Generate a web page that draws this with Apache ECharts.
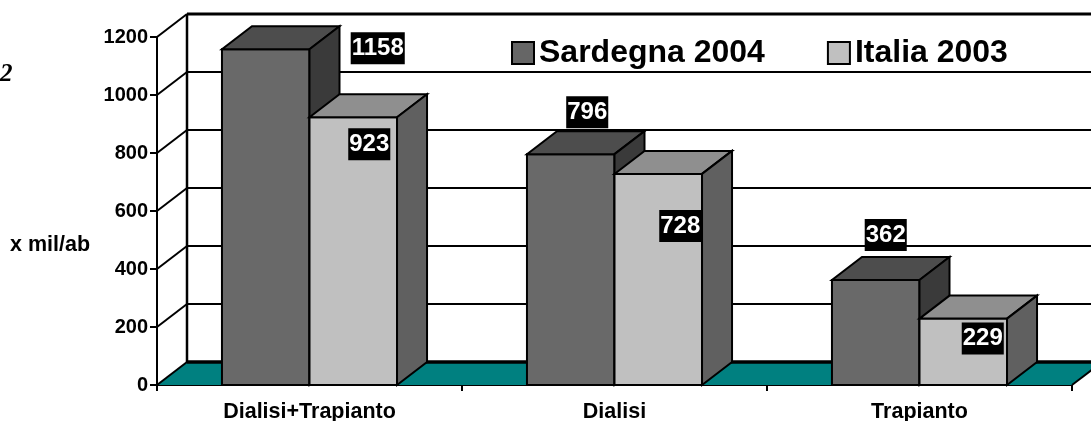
<!DOCTYPE html>
<html>
<head>
<meta charset="utf-8">
<style>html,body{margin:0;padding:0;background:#fff}#c{width:1091px;height:421px}</style>
<script src="https://cdn.jsdelivr.net/npm/echarts@6/dist/echarts.min.js"></script>
</head>
<body>
<div id="c"></div>
<script>
const categories = ['Dialisi+Trapianto', 'Dialisi', 'Trapianto'];
const sardegna = [1158, 796, 362];
const italia = [923, 728, 229];
const yTicks = [0, 200, 400, 600, 800, 1000, 1200];
const seriesNames = ['Sardegna 2004', 'Italia 2003'];
const sardegnaLabelShift = [[112, -1], [16.5, -42], [10, -45]];
const italiaLabelShift = [[16, 27], [22, 52], [19.5, 20]];

const DX = 30, DY = -23, BAR = 0.287;
const FONT = '"Liberation Sans", Arial, sans-serif';
const ln = (x1, y1, x2, y2, w) => ({
  type: 'line', shape: {x1, y1, x2, y2},
  style: {stroke: '#000', lineWidth: w || 2, fill: null}, silent: true
});
const poly = (points, fill) => ({
  type: 'polygon', shape: {points},
  style: {fill, stroke: '#000', lineWidth: 2, lineJoin: 'miter'}, silent: true
});

function renderWall(params, api) {
  const v = api.value(0);
  const band = api.size([1, 0])[0];
  const left = api.coord([0, v]);
  const x0 = left[0] - band / 2;
  const x1 = x0 + band * categories.length;
  const y = left[1];
  const ch = [];
  if (v === 0) {
    ch.push({type: 'polygon', shape: {points: [[x0, y], [x1, y], [x1 + DX, y + DY], [x0 + DX, y + DY]]},
      style: {fill: '#008080', stroke: null}, silent: true});
    ch.push(ln(x1, y, x1 + DX, y + DY, 2));
    ch.push(ln(x0 + DX, y + DY, x1 + DX, y + DY, 3.5));
  } else {
    ch.push(ln(x0 + DX, y + DY, x1 + DX, y + DY, v === 1200 ? 3 : 2));
  }
  ch.push(ln(x0, y, x0 + DX, y + DY, 2));
  if (v === 1200) {
    const bottom = api.coord([0, 0])[1];
    ch.push(ln(x0 + DX, y + DY, x0 + DX, bottom + DY, 2.5));
  }
  return {type: 'group', children: ch};
}

function barRenderer(side, colors, shifts) {
  return function (params, api) {
    const idx = api.value(0), val = api.value(1);
    const base = api.coord([idx, 0]);
    const top = api.coord([idx, val]);
    const w = api.size([1, 0])[0] * BAR;
    const xL = side === 0 ? base[0] - w : base[0];
    const xR = xL + w;
    const cx = (xL + xR) / 2;
    const s = shifts[idx];
    return {type: 'group', children: [
      poly([[xL, top[1]], [xR, top[1]], [xR, base[1]], [xL, base[1]]], colors[0]),
      poly([[xL, top[1]], [xR, top[1]], [xR + DX, top[1] + DY], [xL + DX, top[1] + DY]], colors[1]),
      poly([[xR, top[1]], [xR + DX, top[1] + DY], [xR + DX, base[1] + DY], [xR, base[1]]], colors[2]),
      {type: 'text', z2: 50, x: cx + s[0], y: top[1] + s[1],
       style: {text: String(val), fill: '#fff', backgroundColor: '#000',
         font: 'bold 24px ' + FONT, align: 'center', verticalAlign: 'middle',
         padding: [4, 1, 4, 1]}, silent: true}
    ]};
  };
}

const chart = echarts.init(document.getElementById('c'), null, {renderer: 'canvas'});
chart.setOption({
  animation: false,
  backgroundColor: '#fff',
  grid: {left: 157, right: 19, top: 37, bottom: 36, outerBoundsMode: 'none'},
  legend: {
    left: 506, top: 32, data: seriesNames, icon: 'rect',
    itemWidth: 22, itemHeight: 22, itemGap: 62,
    textStyle: {color: '#000', fontFamily: FONT, fontWeight: 'bold', fontSize: 32}
  },
  xAxis: {
    type: 'category', data: categories, boundaryGap: true,
    axisLine: {show: true, lineStyle: {color: '#000', width: 2}},
    axisTick: {show: true, length: 6, lineStyle: {color: '#000', width: 2}, alignWithLabel: false},
    axisLabel: {color: '#000', fontFamily: FONT, fontWeight: 'bold', fontSize: 21.5, margin: 16, interval: 0},
    splitLine: {show: false}
  },
  yAxis: {
    type: 'value', min: 0, max: 1200, interval: 200,
    axisLine: {show: true, lineStyle: {color: '#000', width: 2}},
    axisTick: {show: true, length: 7, lineStyle: {color: '#000', width: 2}},
    axisLabel: {color: '#000', fontFamily: FONT, fontWeight: 'bold', fontSize: 20, margin: 9, formatter: v => String(v)},
    splitLine: {show: false}
  },
  graphic: [
    {type: 'text', left: 10, top: 234, style: {text: 'x mil/ab', fill: '#000', font: 'bold 21.5px ' + FONT}},
    {type: 'text', left: 0, top: 62, style: {text: '2', fill: '#000', font: 'italic bold 25px "Liberation Serif", serif'}}
  ],
  series: [
    {type: 'custom', name: 'walls', coordinateSystem: 'cartesian2d', z: 1, clip: false,
     data: yTicks.map(v => [v]), encode: {y: 0}, renderItem: renderWall, silent: true},
    {type: 'custom', name: seriesNames[0], coordinateSystem: 'cartesian2d', z: 3, clip: false,
     itemStyle: {color: '#666666', borderColor: '#000', borderWidth: 2},
     data: sardegna.map((v, i) => [i, v]), encode: {x: 0, y: 1},
     renderItem: barRenderer(0, ['#696969', '#4d4d4d', '#3a3a3a'], sardegnaLabelShift)},
    {type: 'custom', name: seriesNames[1], coordinateSystem: 'cartesian2d', z: 4, clip: false,
     itemStyle: {color: '#c0c0c0', borderColor: '#000', borderWidth: 2},
     data: italia.map((v, i) => [i, v]), encode: {x: 0, y: 1},
     renderItem: barRenderer(1, ['#c0c0c0', '#8f8f8f', '#606060'], italiaLabelShift)}
  ]
});
</script>
</body>
</html>
